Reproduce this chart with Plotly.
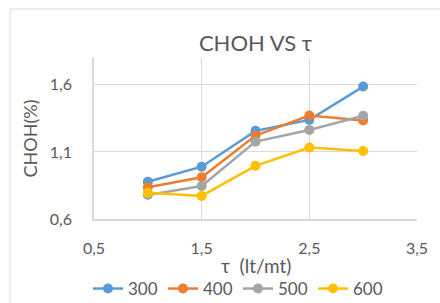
import plotly.graph_objects as go

tau = [1, 1.5, 2, 2.5, 3]
series_names = ["300", "400", "500", "600"]
s300 = [0.878, 0.99, 1.257, 1.339, 1.587]
s400 = [0.837, 0.911, 1.222, 1.371, 1.334]
s500 = [0.779, 0.846, 1.177, 1.264, 1.369]
s600 = [0.796, 0.772, 0.996, 1.132, 1.107]
colors = ["#5B9BD5", "#ED7D31", "#A5A5A5", "#FFC000"]
x_title = "τ  (lt/mt)"

FONT = "Lato, Open Sans, sans-serif"
TXT = "#595959"

fig = go.Figure()
for name, vals, c in zip(series_names, [s300, s400, s500, s600], colors):
    fig.add_trace(go.Scatter(x=tau, y=vals, name=name, mode="lines+markers",
                             line=dict(color=c, width=2.5),
                             marker=dict(color=c, size=10)))

W, H = 440, 303
l, r, t, b = 94, 23, 58, 84
pw, ph = W - l - r, H - t - b
px = lambda x: (x - l) / pw
py = lambda y: (H - b - y) / ph

fig.update_layout(
    width=W, height=H,
    margin=dict(l=l, r=r, t=t, b=b, autoexpand=False),
    paper_bgcolor="white", plot_bgcolor="white",
    font=dict(family=FONT, color=TXT, size=13),
    separators=",.",
    title=dict(text="CHOH VS τ", x=0.5, xref="paper", xanchor="center",
               y=1 - 43 / H, yanchor="middle",
               font=dict(size=22, color=TXT, family=FONT)),
    xaxis=dict(range=[0.5, 3.5], tick0=0.5, dtick=1, tickformat=".1f",
               showgrid=True, gridcolor="#D9D9D9", gridwidth=1,
               showline=True, linecolor="#D9D9D9", linewidth=1.5,
               zeroline=False, ticklabelstandoff=14, automargin=False,
               tickfont=dict(size=16, color=TXT)),
    yaxis=dict(range=[0.6, 1.8], tick0=0.6, dtick=0.5, tickformat=".1f",
               showgrid=True, gridcolor="#D9D9D9", gridwidth=1,
               showline=True, linecolor="#D9D9D9", linewidth=1.5,
               zeroline=False, ticklabelstandoff=17, automargin=False,
               tickfont=dict(size=16, color=TXT),
               title=dict(text="CHOH(%)", standoff=8,
                          font=dict(size=18, color=TXT))),
    legend=dict(orientation="h", xref="container", x=238 / W, xanchor="center",
                yref="container", y=1 - 289 / H, yanchor="middle",
                font=dict(size=17, color=TXT), itemwidth=30,
                entrywidth=30, entrywidthmode="pixels",
                tracegroupgap=0, bgcolor="rgba(0,0,0,0)"),
    showlegend=True,
)

fig.add_annotation(text=x_title, xref="paper", yref="paper",
                   x=0.5, y=py(265), xanchor="center", yanchor="middle",
                   showarrow=False, font=dict(size=19, color=TXT, family=FONT))

fig.add_shape(type="rect", xref="paper", yref="paper",
              x0=px(10), x1=px(460), y0=py(320), y1=py(9),
              line=dict(color="#D9D9D9", width=1), fillcolor="rgba(0,0,0,0)",
              layer="below")

fig.write_html("out.html", config={"displayModeBar": False},
               post_script="document.body.style.margin='0';")
